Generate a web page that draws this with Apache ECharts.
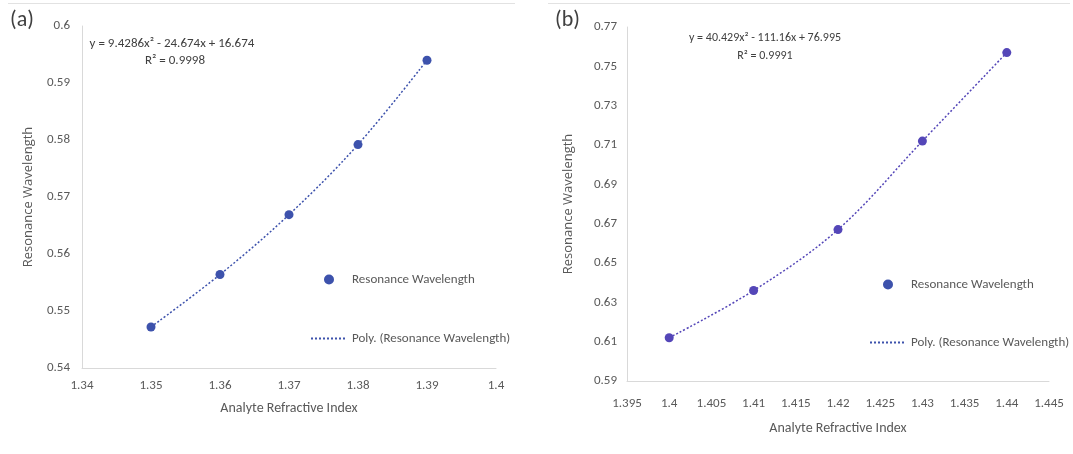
<!DOCTYPE html>
<html>
<head>
<meta charset="utf-8">
<script src="https://cdn.jsdelivr.net/npm/echarts@6/dist/echarts.min.js"></script>
<style>
  html, body { margin: 0; padding: 0; background: #ffffff; }
  #chart { width: 1073px; height: 454px; }
</style>
</head>
<body>
<div id="chart"></div>
<script>
// Panel (a): resonance wavelength vs analyte refractive index
const riA = [1.35, 1.36, 1.37, 1.38, 1.39];
const wlA = [0.5472, 0.5564, 0.5669, 0.5792, 0.5940];
const fitTextA = ['y = 9.4286x\u00B2 - 24.674x + 16.674', 'R\u00B2 = 0.9998'];

// Panel (b)
const riB = [1.40, 1.41, 1.42, 1.43, 1.44];
const wlB = [0.612, 0.636, 0.667, 0.712, 0.757];
const fitTextB = ['y = 40.429x\u00B2 - 111.16x + 76.995', 'R\u00B2 = 0.9991'];

const panelLabels = ['(a)', '(b)'];
const seriesName = 'Resonance Wavelength';
const trendName = 'Poly. (Resonance Wavelength)';
const xName = 'Analyte Refractive Index';
const yName = 'Resonance Wavelength';

const NARROW = "'Liberation Sans Narrow', 'Carlito', 'Lato', sans-serif";
const WIDE = "'Open Sans', 'Noto Sans', sans-serif";
const TICK = '#595959';
const AXIS_LINE = '#d9d9d9';
const colorA = '#3d52ac';
const colorB = '#5446b8';

const pairs = (xs, ys) => xs.map((x, i) => [x, ys[i]]);

function xAxis(gridIndex, min, max, interval, nameGap, labelMargin) {
  return {
    type: 'value', gridIndex, min, max, interval,
    name: xName, nameLocation: 'middle', nameGap,
    nameTextStyle: { color: TICK, fontFamily: NARROW, fontSize: 14 },
    axisLine: { show: true, lineStyle: { color: AXIS_LINE, width: 1 } },
    axisTick: { show: false },
    splitLine: { show: false },
    axisLabel: { color: TICK, fontFamily: NARROW, fontSize: 13, margin: labelMargin }
  };
}
function yAxis(gridIndex, min, max, interval, nameGap, labelMargin) {
  return {
    type: 'value', gridIndex, min, max, interval,
    name: yName, nameLocation: 'middle', nameGap,
    nameTextStyle: { color: TICK, fontFamily: WIDE, fontSize: 13 },
    axisLine: { show: true, lineStyle: { color: AXIS_LINE, width: 1 } },
    axisTick: { show: false },
    splitLine: { show: false },
    axisLabel: { color: TICK, fontFamily: NARROW, fontSize: 13, margin: labelMargin }
  };
}

// legend entries: the trendline entry shows only its dotted stroke
const legendData = [
  { name: seriesName },
  { name: trendName, itemStyle: { opacity: 0 } }
];

const option = {
  animation: false,
  backgroundColor: '#ffffff',
  grid: [
    { left: 82, top: 26, width: 414, height: 342 },
    { left: 627, top: 27, width: 422, height: 354 }
  ],
  xAxis: [
    xAxis(0, 1.34, 1.4, 0.01, 33, 11),
    xAxis(1, 1.395, 1.445, 0.005, 40, 16)
  ],
  yAxis: [
    yAxis(0, 0.54, 0.6, 0.01, 47, 12),
    yAxis(1, 0.59, 0.77, 0.02, 52, 10)
  ],
  legend: [
    {
      left: 305, top: 268, orient: 'vertical', itemWidth: 36, itemHeight: 10, itemGap: 46,
      data: legendData,
      textStyle: { color: TICK, fontFamily: NARROW, fontSize: 13 }
    },
    {
      left: 864, top: 273, orient: 'vertical', itemWidth: 36, itemHeight: 10, itemGap: 45,
      data: legendData,
      textStyle: { color: TICK, fontFamily: NARROW, fontSize: 13 }
    }
  ],
  series: [
    {
      name: trendName, type: 'line', xAxisIndex: 0, yAxisIndex: 0,
      data: pairs(riA, wlA), smooth: 0.35, symbol: 'none', showSymbol: false,
      lineStyle: { color: colorA, width: 1.5, type: [2, 2] }, itemStyle: { color: colorA }, z: 2
    },
    {
      name: seriesName, type: 'scatter', xAxisIndex: 0, yAxisIndex: 0,
      data: pairs(riA, wlA), symbol: 'circle', symbolSize: 9,
      itemStyle: { color: colorA, opacity: 1 }, z: 3
    },
    {
      name: trendName, type: 'line', xAxisIndex: 1, yAxisIndex: 1,
      data: pairs(riB, wlB), smooth: 0.35, symbol: 'none', showSymbol: false,
      lineStyle: { color: colorB, width: 1.5, type: [2, 2] }, itemStyle: { color: colorB }, z: 2
    },
    {
      name: seriesName, type: 'scatter', xAxisIndex: 1, yAxisIndex: 1,
      data: pairs(riB, wlB), symbol: 'circle', symbolSize: 9,
      itemStyle: { color: colorB, opacity: 1 }, z: 3
    }
  ],
  graphic: [
    // faint panel frames along the top edge
    { type: 'line', shape: { x1: 8, y1: 3.5, x2: 515, y2: 3.5 }, style: { stroke: '#e2e2e2', lineWidth: 1 } },
    { type: 'line', shape: { x1: 548, y1: 3.5, x2: 1070, y2: 3.5 }, style: { stroke: '#e2e2e2', lineWidth: 1 } },
    { type: 'text', left: 10, top: 9, style: { text: panelLabels[0], fill: '#404040', font: "22px " + NARROW } },
    { type: 'text', left: 555, top: 9, style: { text: panelLabels[1], fill: '#404040', font: "22px " + NARROW } },
    { type: 'text', x: 172, y: 44, style: { text: fitTextA[0], fill: '#404040', font: "13px " + NARROW, align: 'center', verticalAlign: 'middle' } },
    { type: 'text', x: 175, y: 61, style: { text: fitTextA[1], fill: '#404040', font: "13px " + NARROW, align: 'center', verticalAlign: 'middle' } },
    { type: 'text', x: 765, y: 38, style: { text: fitTextB[0], fill: '#404040', font: "12px " + NARROW, align: 'center', verticalAlign: 'middle' } },
    { type: 'text', x: 765, y: 56, style: { text: fitTextB[1], fill: '#404040', font: "12px " + NARROW, align: 'center', verticalAlign: 'middle' } }
  ]
};

const chart = echarts.init(document.getElementById('chart'), null, { renderer: 'canvas' });
chart.setOption(option);
</script>
</body>
</html>
